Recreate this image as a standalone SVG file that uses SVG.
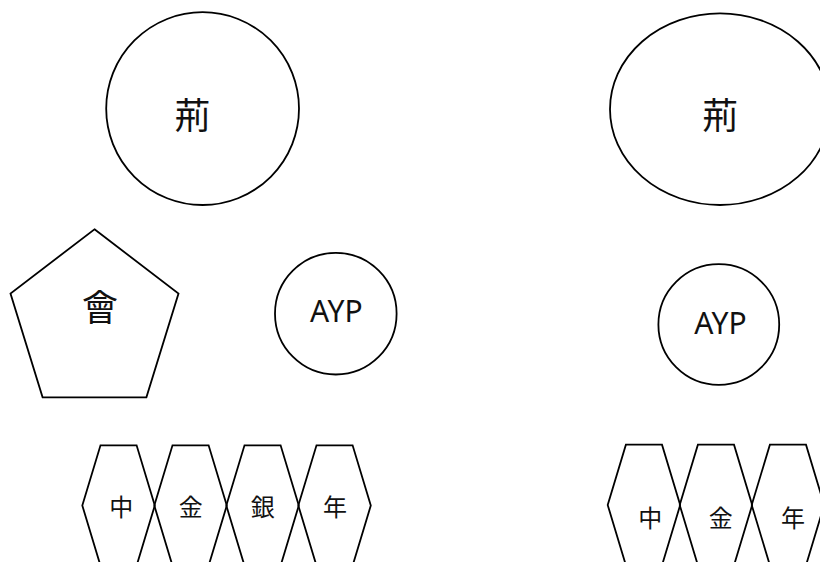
<svg xmlns="http://www.w3.org/2000/svg" width="820" height="562" viewBox="0 0 820 562">
<style>
.s{fill:none;stroke:#000;stroke-width:1.8}
.t{font-family:"Noto Sans","Noto Sans CJK JP",sans-serif;fill:#111;text-anchor:middle}
.big{font-size:36px}
.lat{font-size:30px}
.sm{font-size:24px}
</style>
<rect width="820" height="562" fill="#fff"/>
<g id="connectors"></g>
<g id="n1"><circle class="s" cx="202.6" cy="108.6" r="96.4"/><text class="t big" x="192.5" y="128.5">荊</text></g>
<g id="n2"><polygon class="s" points="94.5,229.3 178.5,293.5 146.4,397.3 42.6,397.3 10.5,293.5"/><text class="t big" x="100" y="320.5">會</text></g>
<g id="n3"><circle class="s" cx="335.8" cy="313.7" r="60.8"/><text class="t lat" x="336.3" y="321.7">AYP</text></g>
<g id="n4"><polygon class="s" points="82.3,505.5 100.5,445.3 136.6,445.3 154.8,505.5 136.6,565.7 100.5,565.7"/><text class="t sm" x="121.3" y="516">中</text></g>
<g id="n5"><polygon class="s" points="154.3,505.5 172.5,445.3 208.6,445.3 226.8,505.5 208.6,565.7 172.5,565.7"/><text class="t sm" x="190.8" y="516">金</text></g>
<g id="n6"><polygon class="s" points="226.3,505.5 244.5,445.3 280.6,445.3 298.8,505.5 280.6,565.7 244.5,565.7"/><text class="t sm" x="262.8" y="516">銀</text></g>
<g id="n7"><polygon class="s" points="298.3,505.5 316.5,445.3 352.6,445.3 370.8,505.5 352.6,565.7 316.5,565.7"/><text class="t sm" x="335" y="516">年</text></g>
<g id="n8"><ellipse class="s" cx="720" cy="109.2" rx="110" ry="95.8"/><text class="t big" x="720.3" y="128.5">荊</text></g>
<g id="n9"><circle class="s" cx="718.8" cy="324.5" r="60.4"/><text class="t lat" x="720.5" y="334.3">AYP</text></g>
<g id="n10"><polygon class="s" points="607.7,505 625.9,444.7 662,444.7 680.2,505 662,565.3 625.9,565.3"/><text class="t sm" x="650.2" y="527">中</text></g>
<g id="n11"><polygon class="s" points="679.7,505 697.9,444.7 734,444.7 752.2,505 734,565.3 697.9,565.3"/><text class="t sm" x="720.7" y="527">金</text></g>
<g id="n12"><polygon class="s" points="751.7,505 769.9,444.7 806,444.7 824.2,505 806,565.3 769.9,565.3"/><text class="t sm" x="793" y="527">年</text></g>
</svg>
